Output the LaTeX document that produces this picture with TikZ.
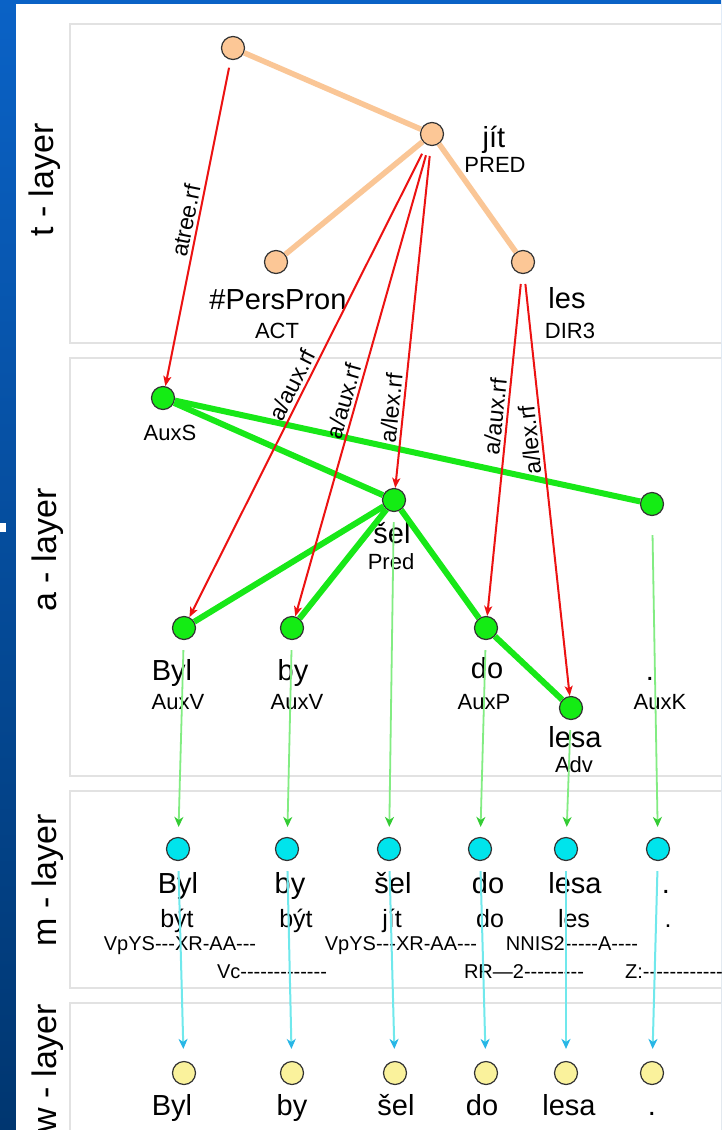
\documentclass[tikz,border=0pt]{standalone}
\usepackage{fontspec}
\setmainfont{Liberation Sans}
\newfontfamily\tagfont{Liberation Sans}[Ligatures=TeXOff]
\usetikzlibrary{arrows.meta, calc}

\definecolor{slideblue}{RGB}{10,98,198}
\definecolor{slidedark}{RGB}{0,54,112}
\definecolor{panelgray}{RGB}{226,226,226}
\definecolor{tnode}{RGB}{252,199,150}
\definecolor{tedge}{RGB}{250,198,150}
\definecolor{anode}{RGB}{20,236,20}
\definecolor{aedge}{RGB}{24,232,24}
\definecolor{refred}{RGB}{236,18,18}
\definecolor{mnode}{RGB}{0,228,236}
\definecolor{wnode}{RGB}{250,242,156}
\definecolor{amline}{RGB}{130,236,130}
\definecolor{amtip}{RGB}{52,204,52}
\definecolor{mwline}{RGB}{112,232,236}
\definecolor{mwtip}{RGB}{40,182,230}

\begin{document}
\begin{tikzpicture}[x=1pt, y=-1pt,
    dot/.style={circle, draw=black!80, line width=1.2pt, minimum size=23pt, inner sep=0pt},
    word/.style={font=\fontsize{29}{29}\selectfont, anchor=base, inner sep=0pt},
    lemma/.style={font=\fontsize{25}{25}\selectfont, anchor=base, inner sep=0pt},
    func/.style={font=\fontsize{22}{22}\selectfont, anchor=base, inner sep=0pt},
    tag/.style={font=\fontsize{20}{20}\selectfont\tagfont, anchor=base, inner sep=0pt},
    layer/.style={font=\fontsize{34}{34}\selectfont, rotate=90},
    panel/.style={draw=panelgray, line width=1.5pt, fill=white},
    tedges/.style={draw=tedge, line width=5.5pt},
    aedges/.style={draw=aedge, line width=6pt},
    ref/.style={draw=refred, line width=2pt, shorten <=10pt,
        -{Stealth[length=10pt, width=8pt, inset=2.5pt]}},
    reflab/.style={font=\fontsize{23}{23}\selectfont, anchor=south, inner sep=3pt},
    amarrow/.style={draw=amline, line width=1.8pt, shorten <=10pt, shorten >=10pt,
        -{Stealth[length=10pt, width=9pt, inset=3pt, color=amtip]}},
    mwarrow/.style={draw=mwline, line width=2pt, shorten <=10pt, shorten >=12pt,
        -{Stealth[length=10pt, width=9pt, inset=3pt, color=mwtip]}}]

  \clip (0,0) rectangle (721,1130);

  % slide background
  \shade[top color=slideblue, bottom color=slidedark] (0,0) rectangle (721,1130);
  \fill[white] (16,4) rectangle (721,1130);
  \fill[white] (0,523) rectangle (6,532);

  % layer panels
  \draw[panel] (70,24) rectangle (740,343);
  \draw[panel] (70,358) rectangle (740,776);
  \draw[panel] (70,791) rectangle (740,988);
  \draw[panel] (70,1003) rectangle (740,1150);

  \node[layer] (tlayer) at (45,180) {t - layer};
  \node[layer] (alayer) at (48,550) {a - layer};
  \node[layer] (mlayer) at (48,880) {m - layer};
  \node[layer] (wlayer) at (48,1068) {w - layer};

  % t-layer
  \node[dot, fill=tnode] (troot) at (233,48) {};
  \node[dot, fill=tnode] (tjit) at (432,134) {};
  \node[dot, fill=tnode] (tpers) at (276,262) {};
  \node[dot, fill=tnode] (tles) at (523,262) {};

  \node[word] (tjitlab) at (494,147) {jít};
  \node[func] (tjitfun) at (495,172) {PRED};
  \node[word] (tperslab) at (278,309) {\#PersPron};
  \node[func] (tpersfun) at (277,338) {ACT};
  \node[word] (tleslab) at (567,308) {les};
  \node[func] (tlesfun) at (570,338) {DIR3};

  \draw[tedges] (troot) -- (tjit);
  \draw[tedges] (tjit) -- (tpers);
  \draw[tedges] (tjit) -- (tles);

  % a-layer
  \node[dot, fill=anode] (aauxs) at (163,398) {};
  \node[dot, fill=anode] (asel) at (394,500) {};
  \node[dot, fill=anode] (aauxk) at (652,504) {};
  \node[dot, fill=anode] (abyl) at (184,628) {};
  \node[dot, fill=anode] (aby) at (292,628) {};
  \node[dot, fill=anode] (ado) at (486,628) {};
  \node[dot, fill=anode] (alesa) at (571,708) {};

  \node[func] (aauxsfun) at (170,440) {AuxS};
  \node[word] (asellab) at (392,543) {šel};
  \node[func] (aselfun) at (391,569) {Pred};
  \node[word] (abyllab) at (172,680) {Byl};
  \node[func] (abylfun) at (178,709) {AuxV};
  \node[word] (abylab) at (293,680) {by};
  \node[func] (abyfun) at (297,709) {AuxV};
  \node[word] (adolab) at (487,678) {do};
  \node[func] (adofun) at (484,709) {AuxP};
  \node[word] (aauxklab) at (650,680) {.};
  \node[func] (aauxkfun) at (660,709) {AuxK};
  \node[word] (alesalab) at (575,747) {lesa};
  \node[func] (alesafun) at (574,772) {Adv};

  \draw[aedges] (aauxs) -- (asel);
  \draw[aedges] (aauxs) -- (aauxk);
  \draw[aedges] (asel) -- (abyl);
  \draw[aedges] (asel) -- (aby);
  \draw[aedges] (asel) -- (ado);
  \draw[aedges] (ado) -- (alesa);

  % m-layer
  \node[dot, fill=mnode] (mbyl) at (178,849) {};
  \node[dot, fill=mnode] (mby) at (287,849) {};
  \node[dot, fill=mnode] (msel) at (389,849) {};
  \node[dot, fill=mnode] (mdo) at (480,849) {};
  \node[dot, fill=mnode] (mlesa) at (566,849) {};
  \node[dot, fill=mnode] (mdot) at (658,849) {};

  \node[word] (mbyllab) at (178,893) {Byl};
  \node[word] (mbylab) at (290,893) {by};
  \node[word] (msellab) at (393,893) {šel};
  \node[word] (mdolab) at (488,893) {do};
  \node[word] (mlesalab) at (575,893) {lesa};
  \node[word] (mdotlab) at (666,893) {.};

  \node[lemma] (mbyllem) at (177,927) {být};
  \node[lemma] (mbylem) at (296,927) {být};
  \node[lemma] (msellem) at (392,927) {jít};
  \node[lemma] (mdolem) at (490,927) {do};
  \node[lemma] (mlesalem) at (574,927) {les};
  \node[lemma] (mdotlem) at (668,927) {.};

  \node[tag] (mbyltag) at (180,950) {VpYS---XR-AA---};
  \node[tag] (mseltag) at (401,950) {VpYS---XR-AA---};
  \node[tag] (mlesatag) at (572,950) {NNIS2-----A----};
  \node[tag] (mbytag) at (272,978) {Vc-------------};
  \node[tag] (mdotag) at (524,978) {RR—2---------};
  \node[tag, anchor=base west] (mdottag) at (625,978) {Z:-------------};

  % w-layer
  \node[dot, fill=wnode] (wbyl) at (184,1073) {};
  \node[dot, fill=wnode] (wby) at (292,1073) {};
  \node[dot, fill=wnode] (wsel) at (395,1073) {};
  \node[dot, fill=wnode] (wdo) at (486,1073) {};
  \node[dot, fill=wnode] (wlesa) at (566,1073) {};
  \node[dot, fill=wnode] (wdot) at (652,1073) {};

  \node[word] (wbyllab) at (172,1115) {Byl};
  \node[word] (wbylab) at (292,1115) {by};
  \node[word] (wsellab) at (396,1115) {šel};
  \node[word] (wdolab) at (482,1115) {do};
  \node[word] (wlesalab) at (569,1115) {lesa};
  \node[word] (wdotlab) at (652,1115) {.};

  % a -> m
  \draw[amarrow] (abyl) -- (mbyl);
  \draw[amarrow] (aby) -- (mby);
  \draw[amarrow] (asel) -- (msel);
  \draw[amarrow] (ado) -- (mdo);
  \draw[amarrow] (alesa) -- (mlesa);
  \draw[amarrow, shorten <=19pt] (aauxk) -- (mdot);

  % m -> w
  \draw[mwarrow] (mbyl) -- (wbyl);
  \draw[mwarrow] (mby) -- (wby);
  \draw[mwarrow] (msel) -- (wsel);
  \draw[mwarrow] (mdo) -- (wdo);
  \draw[mwarrow] (mlesa) -- (wlesa);
  \draw[mwarrow] (mdot) -- (wdot);

  % t -> a references
  \draw[ref, shorten <=8pt] (troot) -- (aauxs)
      node[reflab, pos=0.5, rotate=78.7] {atree.rf};
  \draw[ref] (tjit) -- (abyl)
      node[reflab, pos=0.52, rotate=63.3] {a/aux.rf};
  \draw[ref] (tjit) -- (aby)
      node[reflab, pos=0.55, rotate=74.2] {a/aux.rf};
  \draw[ref] (tjit) -- (asel)
      node[reflab, pos=0.77, rotate=84.1] {a/lex.rf};
  \draw[ref] (tles) -- (ado)
      node[reflab, pos=0.42, rotate=84.2] {a/aux.rf};
  \draw[ref] (tles) -- (alesa)
      node[reflab, pos=0.39, rotate=96.1] {a/lex.rf};
\end{tikzpicture}
\end{document}
